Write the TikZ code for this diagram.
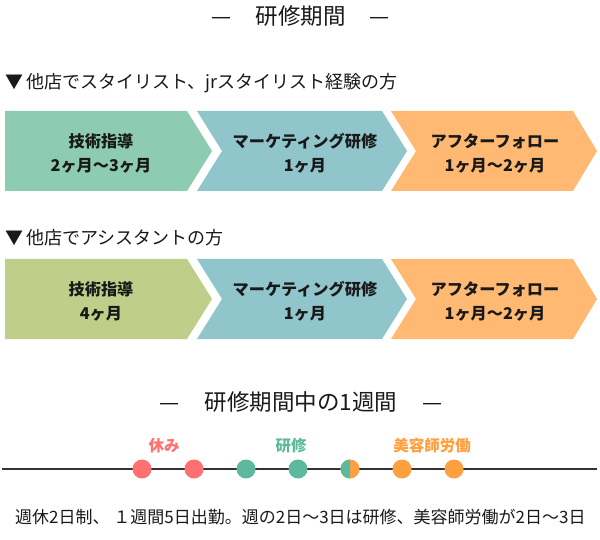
\documentclass[tikz,border=0pt]{standalone}
\usepackage{fontspec}
\newfontfamily\jp{Noto Sans CJK JP}
\definecolor{cmint}{HTML}{8DCCB2}
\definecolor{cblue}{HTML}{8FC5CB}
\definecolor{corange}{HTML}{FFB973}
\definecolor{colive}{HTML}{BFCF8A}
\definecolor{dred}{HTML}{FF7070}
\definecolor{dgreen}{HTML}{5DB99B}
\definecolor{dorange}{HTML}{FFA040}
\definecolor{dline}{HTML}{333333}
\tikzset{
  chevtxt/.style={font=\jp\bfseries\fontsize{16.2}{24}\selectfont, align=center, text=black!90, inner sep=0},
  headtxt/.style={font=\jp\fontsize{18}{20}\selectfont, anchor=west, inner sep=0, text=black!90},
  ttltxt/.style={font=\jp\fontsize{22.5}{26}\selectfont, inner sep=0, text=black!90},
  tdot/.style={circle, fill=#1, minimum size=19pt, inner sep=0},
  labtxt/.style={font=\jp\bfseries\fontsize{15.5}{18}\selectfont, text=#1, inner sep=0},
  bottxt/.style={font=\jp\fontsize{17}{20}\selectfont, anchor=west, inner sep=0, text=black!90},
}
\begin{document}
\begin{tikzpicture}[x=1pt,y=-1pt]
\useasboundingbox (0,0) rectangle (600,540);
\fill[white] (0,0) rectangle (600,540);

% title
\node[ttltxt] (title) at (301,16) {—\hspace{24pt}研修期間\hspace{24pt}—};

% row 1
\node[headtxt] (h1) at (5,83) {▼\,他店でスタイリスト、jrスタイリスト経験の方};
\fill[cmint]   (5,111) -- (187,111) -- (212,151) -- (187,191) -- (5,191) -- cycle;
\fill[cblue]   (197,111) -- (382,111) -- (407,151) -- (382,191) -- (197,191) -- (222,151) -- cycle;
\fill[corange] (391,111) -- (573,111) -- (597,151) -- (573,191) -- (391,191) -- (416,151) -- cycle;
\node[chevtxt] (a1) at (101,153) {技術指導\\2ヶ月〜3ヶ月};
\node[chevtxt] (a2) at (305,153) {マーケティング研修\\1ヶ月};
\node[chevtxt] (a3) at (495,153) {アフターフォロー\\1ヶ月〜2ヶ月};

% row 2
\node[headtxt] (h2) at (5,238) {▼\,他店でアシスタントの方};
\fill[colive]  (5,259) -- (187,259) -- (212,299) -- (187,339) -- (5,339) -- cycle;
\fill[cblue]   (197,259) -- (382,259) -- (407,299) -- (382,339) -- (197,339) -- (222,299) -- cycle;
\fill[corange] (391,259) -- (573,259) -- (597,299) -- (573,339) -- (391,339) -- (416,299) -- cycle;
\node[chevtxt] (b1) at (101,301) {技術指導\\4ヶ月};
\node[chevtxt] (b2) at (305,301) {マーケティング研修\\1ヶ月};
\node[chevtxt] (b3) at (495,301) {アフターフォロー\\1ヶ月〜2ヶ月};

% week title
\node[ttltxt] (title2) at (301,402) {—\hspace{25pt}研修期間中の1週間\hspace{25pt}—};

% timeline
\coordinate (tl) at (2,469);
\coordinate (tr) at (597,469);
\draw[dline, line width=2.2pt] (tl) -- (tr);
\node[tdot=dred]    (d1) at (142,469) {};
\node[tdot=dred]    (d2) at (194,469) {};
\node[tdot=dgreen]  (d3) at (246,469) {};
\node[tdot=dgreen]  (d4) at (298,469) {};
\node[tdot=dorange] (d5) at (350,469) {};
\begin{scope}
  \clip (339,458) rectangle (350,480);
  \fill[dgreen] (d5.center) circle[radius=9.5pt];
\end{scope}
\node[tdot=dorange] (d6) at (402,469) {};
\node[tdot=dorange] (d7) at (454,469) {};

\node[labtxt=dred]    (l1) at (164,446) {休み};
\node[labtxt=dgreen]  (l2) at (291,446) {研修};
\node[labtxt=dorange] (l3) at (432,446) {美容師労働};

\node[bottxt] (note) at (15,517) {週休2日制、 １週間5日出勤。週の2日〜3日は研修、美容師労働が2日〜3日};
\end{tikzpicture}
\end{document}
